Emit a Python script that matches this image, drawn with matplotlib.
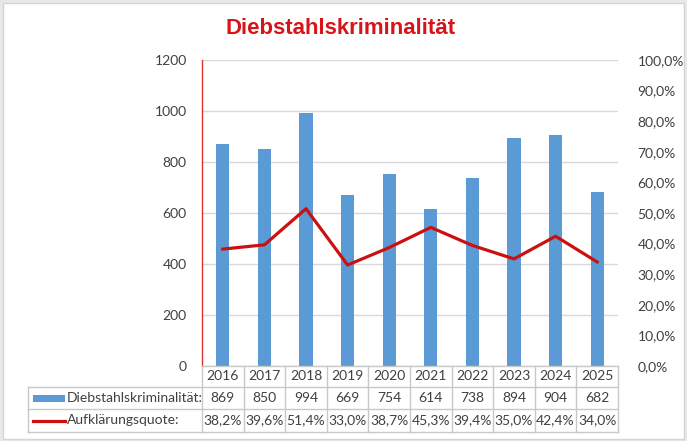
import matplotlib.pyplot as plt
from matplotlib.patches import Rectangle
from matplotlib.lines import Line2D

years = ["2016", "2017", "2018", "2019", "2020", "2021", "2022", "2023", "2024", "2025"]
cases = [869, 850, 994, 669, 754, 614, 738, 894, 904, 682]
quote = [38.2, 39.6, 51.4, 33.0, 38.7, 45.3, 39.4, 35.0, 42.4, 34.0]
bar_label = "Diebstahlskriminalität:"
line_label = "Aufklärungsquote:"

W, H = 687, 441
plt.rcParams["font.family"] = ["Lato", "DejaVu Sans"]
text_col = "#404040"
grid_col = "#d9d9d9"
blue = "#5b9bd5"
red = "#cc1010"

fig = plt.figure(figsize=(W / 100, H / 100), dpi=100)
fig.patch.set_facecolor("#e8e8e8")
fig.add_artist(Rectangle((3 / W, 1 - 439 / H), 681 / W, 436 / H, transform=fig.transFigure,
                         facecolor="white", edgecolor="#d4d4d4", lw=1, zorder=-10))

# Plot area in pixel layout
left, right, top, bottom = 202, 618, 60, 366
ax = fig.add_axes([left / W, 1 - bottom / H, (right - left) / W, (bottom - top) / H])
ax.set_facecolor("none")
x = list(range(len(years)))
ax.bar(x, cases, width=0.32, color=blue, zorder=2)
ax.set_xlim(-0.5, len(years) - 0.5)
ax.set_ylim(0, 1200)
ax.set_yticks(range(0, 1201, 200))
ax.tick_params(axis="y", length=0, pad=11, labelsize=10, labelcolor=text_col)
ax.set_xticks([])
ax.grid(axis="y", color=grid_col, lw=1, zorder=0)
for s in ["top", "right", "bottom"]:
    ax.spines[s].set_visible(False)
ax.spines["left"].set_color("#e03030")
ax.spines["left"].set_linewidth(1)

ax2 = ax.twinx()
ax2.plot(x, quote, color=red, lw=2.3, zorder=3)
ax2.set_ylim(0, 100)
ax2.set_yticks(range(0, 101, 10))
ax2.set_yticklabels([f"{v},0%" for v in range(0, 101, 10)])
ax2.tick_params(axis="y", length=0, pad=14, labelsize=10, labelcolor=text_col)
for s in ax2.spines.values():
    s.set_visible(False)

fig.text(341 / W, 1 - 28 / H, "Diebstahlskriminalität", ha="center", va="center",
         fontsize=16, fontweight="bold", color="#d81418", family="Liberation Sans")

# Data table below the axis
def fy(py):
    return 1 - py / H

def fx(px):
    return px / W

rows = [366, 387, 409, 432]
tab_left = 28
lc = "#c8c8c8"
col_w = (right - left) / len(years)
fig.add_artist(Line2D([fx(left), fx(right)], [fy(rows[0])] * 2, color=lc, lw=1))
for r in rows[1:]:
    fig.add_artist(Line2D([fx(tab_left), fx(right)], [fy(r)] * 2, color=lc, lw=1))
fig.add_artist(Line2D([fx(tab_left)] * 2, [fy(rows[1]), fy(rows[3])], color=lc, lw=1))
for i in range(len(years) + 1):
    px = left + i * col_w
    fig.add_artist(Line2D([fx(px)] * 2, [fy(rows[0]), fy(rows[3])], color=lc, lw=1))

row_texts = [years, [str(v) for v in cases], [f"{v:.1f}%".replace(".", ",") for v in quote]]
for ri, vals in enumerate(row_texts):
    cy = (rows[ri] + rows[ri + 1]) / 2
    for i, t in enumerate(vals):
        fig.text(fx(left + (i + 0.5) * col_w), fy(cy), t, ha="center", va="center",
                 fontsize=10, color=text_col)

cy2 = (rows[1] + rows[2]) / 2
cy3 = (rows[2] + rows[3]) / 2
fig.add_artist(Rectangle((fx(33), fy(cy2 + 3.5)), 32 / W, 7 / H, transform=fig.transFigure,
                         facecolor=blue, edgecolor="none"))
fig.add_artist(Line2D([fx(33), fx(65)], [fy(cy3)] * 2, color=red, lw=2.3))
fig.text(fx(67), fy(cy2), bar_label, ha="left", va="center", fontsize=10, color=text_col)
fig.text(fx(67), fy(cy3), line_label, ha="left", va="center", fontsize=10, color=text_col)

fig.savefig("out.png", dpi=100, facecolor=fig.get_facecolor())
